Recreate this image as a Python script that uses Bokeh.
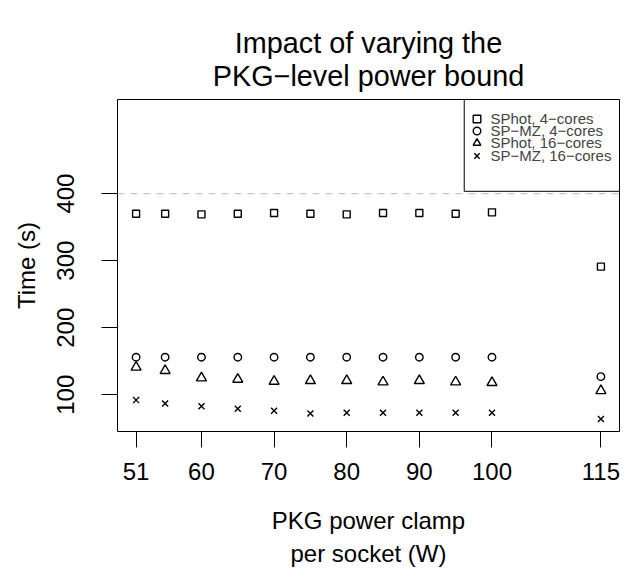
from bokeh.plotting import figure
from bokeh.models import (Range1d, FixedTicker, Span, Legend, LegendItem, Title,
                          LinearAxis, BoxAnnotation)
from bokeh.embed import file_html
from bokeh.resources import INLINE

# ---- data ----
power = [51, 55, 60, 65, 70, 75, 80, 85, 90, 95, 100, 115]
sphot_4 = [370, 370, 369, 370, 371, 370, 369, 371, 371, 370, 372, 291]
spmz_4 = [156, 156, 156, 156, 156, 156, 156, 156, 156, 156, 156, 127]
sphot_16 = [141, 136, 125, 123, 120, 121, 121, 119, 121, 119, 118, 106]
spmz_16 = [92, 87, 83, 79, 76, 72, 73, 73, 73, 73, 73, 64]
x_ticks = [51, 60, 70, 80, 90, 100, 115]
y_ticks = [100, 200, 300, 400]
reference_line = 400
labels = ["SPhot, 4\u2212cores", "SP\u2212MZ, 4\u2212cores",
          "SPhot, 16\u2212cores", "SP\u2212MZ, 16\u2212cores"]
title_lines = ["Impact of varying the", "PKG\u2212level power bound"]
xlabel_lines = ["PKG power clamp", "per socket (W)"]
ylabel = "Time (s)"

FONT = "Liberation Sans"
FRAME_W, FRAME_H = 502, 332

p = figure(frame_width=FRAME_W, frame_height=FRAME_H,
           min_border_left=117, min_border_right=24,
           min_border_top=99, min_border_bottom=142,
           x_range=Range1d(48.44, 117.56), y_range=Range1d(45.2, 540.3),
           output_backend="svg", toolbar_location=None)
p.title.visible = False
p.background_fill_color = "white"
p.border_fill_color = "white"
p.outline_line_color = "black"
p.outline_line_width = 1
p.xgrid.visible = False
p.ygrid.visible = False

for ax in (p.xaxis[0], p.yaxis[0]):
    ax.axis_line_color = None
    ax.major_tick_out = 16
    ax.major_tick_in = 0
    ax.minor_tick_out = 0
    ax.minor_tick_in = 0
    ax.major_tick_line_color = "black"
    ax.major_label_text_font = FONT
    ax.major_label_text_font_size = "24px"
    ax.major_label_text_color = "black"
    ax.axis_label_text_font = FONT
    ax.axis_label_text_font_size = "24px"
    ax.axis_label_text_font_style = "normal"
    ax.axis_label_text_color = "black"

p.xaxis[0].ticker = FixedTicker(ticks=x_ticks)
p.xaxis[0].major_label_standoff = 15
p.xaxis[0].axis_label = xlabel_lines[0]
p.xaxis[0].axis_label_standoff = 24

p.yaxis[0].ticker = FixedTicker(ticks=y_ticks)
p.yaxis[0].major_label_orientation = "vertical"
p.yaxis[0].major_label_standoff = 27
p.yaxis[0].axis_label = ylabel
p.yaxis[0].axis_label_standoff = 15

ax2 = LinearAxis(axis_label=xlabel_lines[1], ticker=FixedTicker(ticks=[]),
                 axis_line_color=None, major_tick_out=0, major_tick_in=0,
                 minor_tick_out=0, minor_tick_in=0, axis_label_standoff=3,
                 major_label_standoff=0,
                 axis_label_text_font=FONT, axis_label_text_font_size="24px",
                 axis_label_text_font_style="normal", axis_label_text_color="black")
p.add_layout(ax2, "below")

t2 = Title(text=title_lines[1], align="center", text_font=FONT,
           text_font_size="28.8px", text_font_style="normal", text_color="black",
           standoff=16)
p.add_layout(t2, "above")
t1 = Title(text=title_lines[0], align="center", text_font=FONT,
           text_font_size="28.8px", text_font_style="normal", text_color="black",
           standoff=-18)
p.add_layout(t1, "above")

p.add_layout(Span(location=reference_line, dimension="width", line_color="#c8c8c8",
                  line_dash="7 6", line_width=1.2))

common = dict(line_color="black", fill_color=None, line_width=1.4)
r1 = p.scatter(power, sphot_4, marker="square", size=7, **common)
r2 = p.scatter(power, spmz_4, marker="circle", size=7.5, **common)
r3 = p.scatter(power, sphot_16, marker="triangle", size=10, **common)
r4 = p.scatter(power, spmz_16, marker="x", size=8.5, **common)

# legend frame
p.add_layout(BoxAnnotation(left=96.18, bottom=403.4, fill_alpha=0,
                           line_color="black", line_width=1, line_alpha=1))

# one legend row per series, stacked 12.4 px apart
GLYPH = 19
ROW_STEP = 12.4
FIRST_ROW_FROM_TOP = 19.0   # row centre below frame top
GLYPH_X = 359.0             # glyph centre from frame left
for i, r in enumerate([r1, r2, r3, r4]):
    centre_from_top = FIRST_ROW_FROM_TOP + i * ROW_STEP
    bottom_from_frame_bottom = FRAME_H - centre_from_top - GLYPH / 2
    lg = Legend(items=[LegendItem(label=labels[i], renderers=[r])],
                location=(GLYPH_X - GLYPH / 2, bottom_from_frame_bottom),
                border_line_color=None, background_fill_alpha=0,
                label_text_font=FONT, label_text_font_size="15px",
                glyph_width=GLYPH, glyph_height=GLYPH, label_height=GLYPH,
                spacing=0, padding=0, margin=0, label_standoff=5)
    p.add_layout(lg)

open("out.html", "w").write(file_html(p, INLINE))
